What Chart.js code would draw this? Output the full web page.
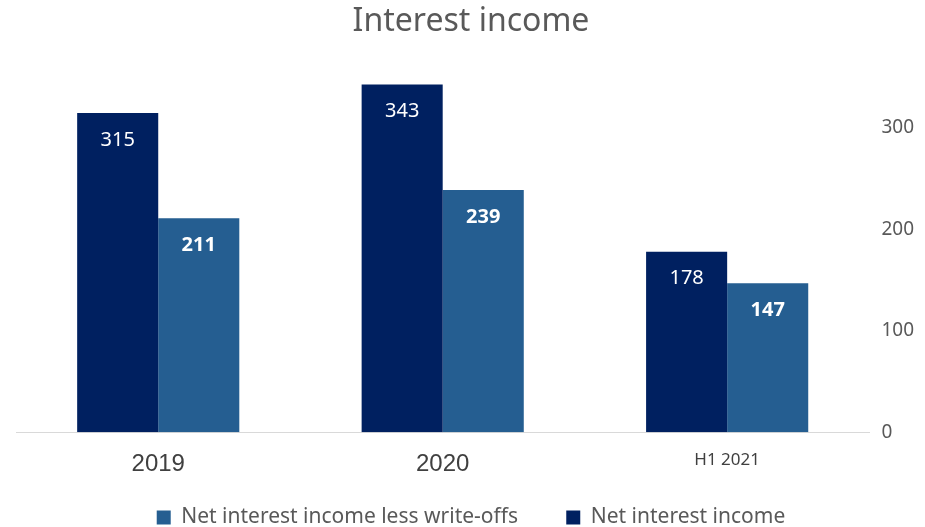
<!DOCTYPE html>
<html>
<head>
<meta charset="utf-8">
<script src="https://cdn.jsdelivr.net/npm/chart.js@4/dist/chart.umd.min.js"></script>
<style>
  body { margin: 0; background: #fff; }
  #wrap { width: 925px; height: 527px; }
</style>
</head>
<body>
<div id="wrap"><canvas id="chart" width="925" height="527"></canvas></div>
<script>
// chart data
const categories = ["2019", "2020", "H1 2021"];
const netInterestIncome = [315, 343, 178];
const lessWriteOffs = [211, 239, 147];
const yTicks = [0, 100, 200, 300];

// white value labels inside the bars
const barLabels = {
    id: "barLabels",
    afterDatasetsDraw(chart) {
        const ctx = chart.ctx;
        ctx.save();
        ctx.fillStyle = "#ffffff";
        ctx.textAlign = "center";
        ctx.textBaseline = "middle";
        chart.data.datasets.forEach(function(ds, i) {
            const meta = chart.getDatasetMeta(i);
            ctx.font = (i === 1 ? "bold " : "") + "20px 'Noto Sans'";
            meta.data.forEach(function(bar, j) {
                ctx.fillText(ds.data[j], bar.x, bar.y + 27);
            });
        });
        ctx.restore();
    }
};

new Chart(document.getElementById("chart"), {
    type: "bar",
    data: {
        labels: categories,
        datasets: [{
            label: "Net interest income",
            data: netInterestIncome,
            backgroundColor: "#002060"
        }, {
            // trailing spaces widen the gap between the two legend entries
            label: "Net interest income less write-offs       ",
            data: lessWriteOffs,
            backgroundColor: "#255E91"
        }]
    },
    options: {
        responsive: false,
        animation: false,
        devicePixelRatio: 1,
        layout: { padding: { left: 16, right: -1, bottom: -11 } },
        datasets: {
            bar: { categoryPercentage: 0.57, barPercentage: 1.0 }
        },
        scales: {
            x: {
                grid: { display: false, drawTicks: false },
                border: { color: "#d9d9d9", width: 1 },
                ticks: {
                    color: "#404040",
                    padding: 18,
                    font: function(c) {
                        if (c.index === 2) return { family: "'Noto Sans'", size: 17 };
                        return { family: "'Liberation Sans'", size: 24 };
                    }
                }
            },
            y: {
                position: "right",
                min: 0,
                max: 350,
                grid: { display: false, drawTicks: false },
                border: { display: false },
                afterBuildTicks: function(scale) {
                    scale.ticks = yTicks.map(v => ({ value: v }));
                },
                ticks: {
                    color: "#595959",
                    padding: 12,
                    font: { family: "'Noto Sans'", size: 19 }
                }
            }
        },
        plugins: {
            title: {
                display: true,
                text: "Interest income",
                color: "#595959",
                font: { family: "'Noto Sans'", size: 32, weight: "normal" },
                padding: { top: 3, bottom: 36 }
            },
            legend: {
                position: "bottom",
                reverse: true,
                labels: {
                    color: "#595959",
                    boxWidth: 14,
                    boxHeight: 14,
                    padding: 10,
                    font: { family: "'Noto Sans'", size: 21 }
                }
            },
            tooltip: { enabled: false }
        }
    },
    plugins: [barLabels]
});
</script>
</body>
</html>
